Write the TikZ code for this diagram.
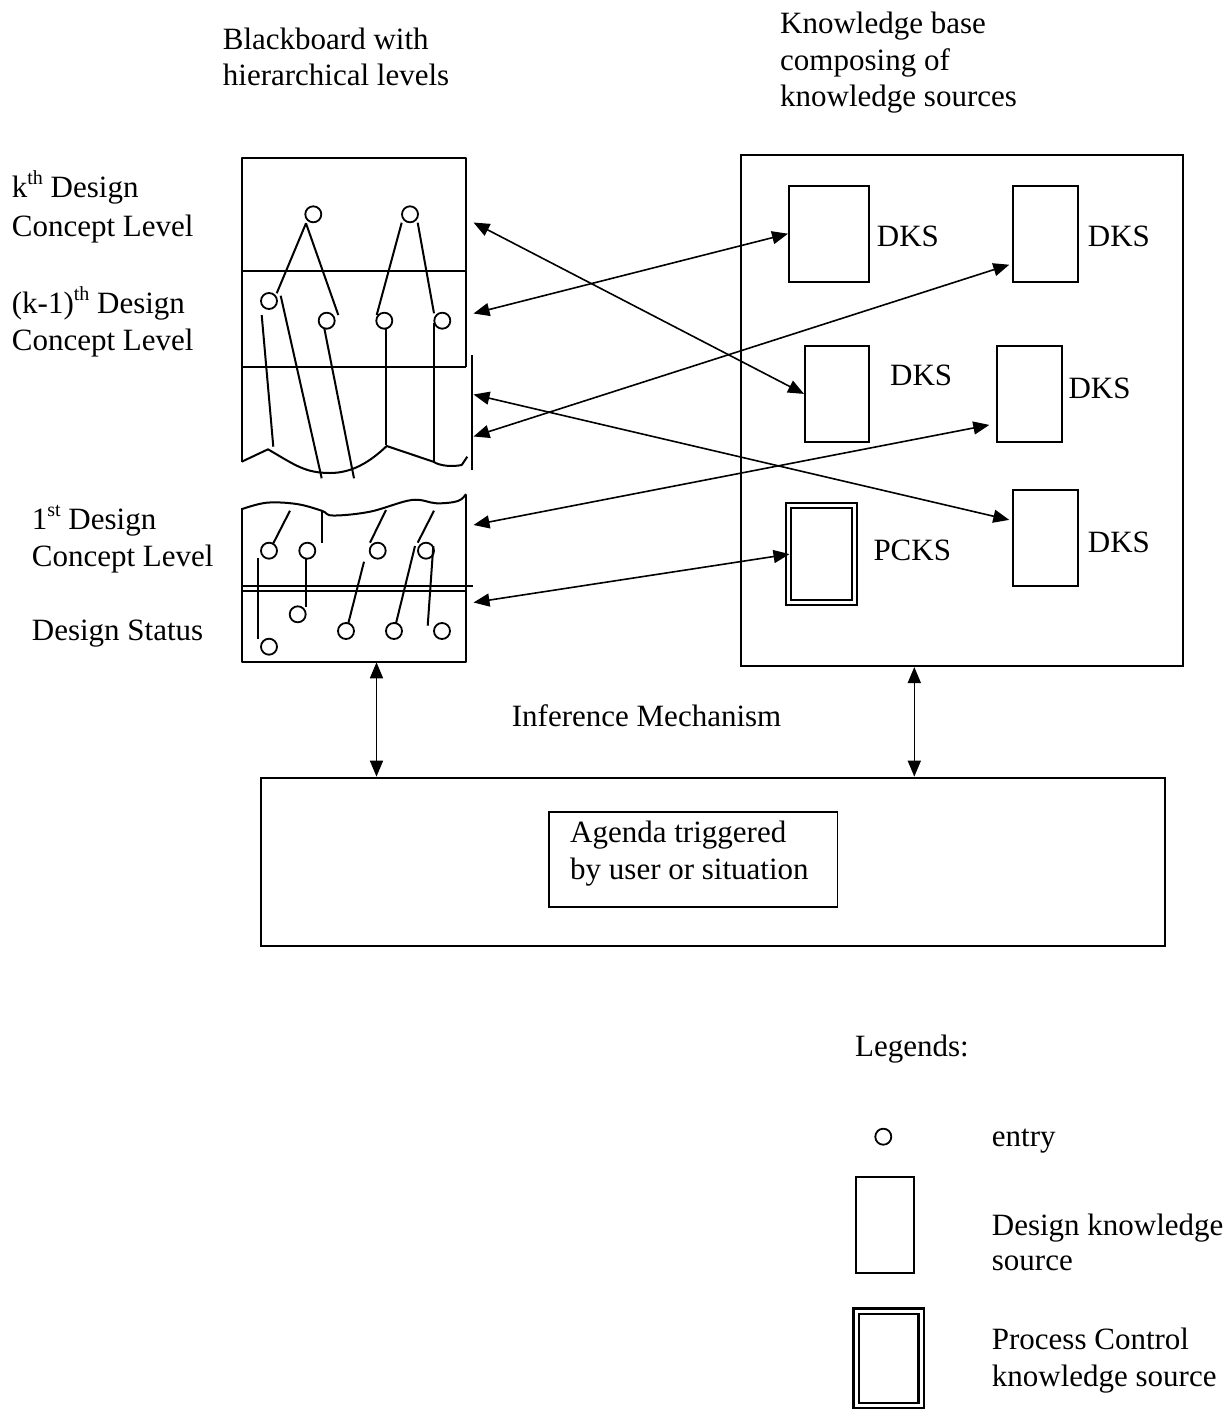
\documentclass[tikz,border=0pt]{standalone}
\usepackage{fontspec}
\setmainfont{Liberation Serif}
\usetikzlibrary{arrows.meta}
\newcommand\mysup[1]{\raisebox{13pt}{\fontsize{20}{20}\selectfont #1}}
\begin{document}
\begin{tikzpicture}[x=1pt,y=-1pt,
  lbl/.style={anchor=base west, inner sep=0pt, font=\fontsize{31}{36}\selectfont},
  bb/.style={line width=2pt, line join=round},
  entry/.style={circle, draw, line width=1.8pt, minimum size=16pt, inner sep=0pt},
  ksbox/.style={rectangle, draw, line width=2pt, inner sep=0pt},
  frame/.style={rectangle, draw, line width=2pt, inner sep=0pt},
  biarrow/.style={line width=1.6pt, {Triangle[length=16pt,width=13pt]}-{Triangle[length=16pt,width=13pt]}},
]
\useasboundingbox (0,0) rectangle (1232,1409);

% ---------- titles ----------
\node[lbl] (t1) at (222.7,49.3) {Blackboard with};
\node[lbl] (t2) at (222.7,85) {hierarchical levels};
\node[lbl] (t3) at (780,33.3) {Knowledge base};
\node[lbl] (t4) at (780,70) {composing of};
\node[lbl] (t5) at (780,106) {knowledge sources};

% ---------- left labels ----------
\node[lbl] (l1) at (11.7,197.7) {k\mysup{th} Design};
\node[lbl] (l2) at (11.7,236) {Concept Level};
\node[lbl] (l3) at (11.7,313) {(k-1)\mysup{th} Design};
\node[lbl] (l4) at (11.7,350.7) {Concept Level};
\node[lbl] (l5) at (31.7,529.3) {1\mysup{st} Design};
\node[lbl] (l6) at (31.7,566) {Concept Level};
\node[lbl] (l7) at (31.7,640) {Design Status};

% ---------- upper blackboard ----------
\draw[bb] (466,366.7) -- (466,158) -- (241.7,158) -- (241.7,461.7);
\draw[bb] (241.7,270.7) -- (466,270.7);
\draw[bb] (241.7,366.7) -- (466,366.7);
\draw[bb] (472.3,355) -- (472.3,470);
\draw[bb] (241.7,461.7) -- (268,449.3)
  .. controls (295,465) and (305,473) .. (330,473)
  .. controls (352,473) and (370,462) .. (386.7,446)
  -- (433.3,461.7)
  .. controls (440,466) and (452,467) .. (461.7,465) -- (467.3,456.7);

\node[entry] (e1) at (313.3,214.3) {};
\node[entry] (e2) at (410,214.3) {};
\node[entry] (e3) at (269,301) {};
\node[entry] (e4) at (326.7,320.7) {};
\node[entry] (e5) at (384.3,320.7) {};
\node[entry] (e6) at (442.3,320.7) {};

\draw[bb] (306,223.3) -- (276.7,293.3);
\draw[bb] (306,223.3) -- (338.3,315);
\draw[bb] (401.7,222.7) -- (376.7,315);
\draw[bb] (417.7,222.7) -- (434,313.3);
\draw[bb] (261.7,315) -- (273.3,446.7);
\draw[bb] (280.7,295.7) -- (321.7,478.3);
\draw[bb] (324.3,328.3) -- (354,478.3);
\draw[bb] (385.7,328.3) -- (385.7,445);
\draw[bb] (434,323.3) -- (434,461.7);

% ---------- lower blackboard ----------
\draw[bb] (242.3,507.7) -- (242.3,662.3) -- (466,662.3) -- (466,495);
\draw[bb] plot[smooth, tension=0.6] coordinates {(242.3,509) (266.7,502.7) (296.7,504) (321.7,510.7) (333,515.5) (370,511.7) (411.7,500) (436.7,503.3) (458,501) (466,494)};
\draw[bb] (242.3,586.2) -- (472.7,586.2);
\draw[bb] (242.3,590.7) -- (466,590.7);

\node[entry] (f1) at (269,550.7) {};
\node[entry] (f2) at (307.3,550.7) {};
\node[entry] (f3) at (377.7,550.7) {};
\node[entry] (f4) at (426,550.7) {};
\node[entry] (g1) at (297.7,614.3) {};
\node[entry] (g2) at (269,646.7) {};
\node[entry] (g3) at (346,631) {};
\node[entry] (g4) at (394,631) {};
\node[entry] (g5) at (442,631) {};

\draw[bb] (290,510.7) -- (273.3,543.3);
\draw[bb] (321.7,510) -- (321.7,542.7);
\draw[bb] (386,510) -- (370,542.7);
\draw[bb] (434,510.7) -- (417.7,542.7);
\draw[bb] (257.7,558.3) -- (257.7,639);
\draw[bb] (306,558.3) -- (306,606.7);
\draw[bb] (364,561.7) -- (348.3,623.3);
\draw[bb] (415,546) -- (396,623.3);
\draw[bb] (433.3,546) -- (427.7,625.7);

% blackboard connection points
\coordinate (bbK) at (473.5,222.5);
\coordinate (bbKm) at (473.5,313.5);
\coordinate (bbU1) at (473.5,394.5);
\coordinate (bbU2) at (473.5,436.5);
\coordinate (bbF) at (473.5,525);
\coordinate (bbS) at (473.5,602.5);
\coordinate (bbBot) at (376.5,662.3);

% ---------- knowledge base ----------
\node[frame, minimum width=442.3pt, minimum height=511pt] (kb) at (962.2,410.5) {};
\node[ksbox, minimum width=80.3pt, minimum height=96pt] (dksA) at (829.2,233.7) {};
\node[ksbox, minimum width=64.4pt, minimum height=96pt] (dksB) at (1045.5,233.7) {};
\node[ksbox, minimum width=64.3pt, minimum height=95.7pt] (dksC) at (837.2,393.9) {};
\node[ksbox, minimum width=64.4pt, minimum height=95.7pt] (dksD) at (1029.5,393.9) {};
\node[ksbox, minimum width=64.4pt, minimum height=95.7pt] (dksE) at (1045.5,537.9) {};
\node[ksbox, line width=2.4pt, minimum width=70.7pt, minimum height=102.3pt] (pcksOut) at (821.4,553.9) {};
\node[ksbox, line width=2.4pt, minimum width=61pt, minimum height=91.7pt] (pcksIn) at (821.2,554.1) {};

\node[lbl] (kA) at (876.7,246) {DKS};
\node[lbl] (kB) at (1087.7,246) {DKS};
\node[lbl] (kC) at (890,385) {DKS};
\node[lbl] (kD) at (1068.3,398.3) {DKS};
\node[lbl] (kE) at (1087.7,552.7) {DKS};
\node[lbl] (kP) at (873.3,560) {PCKS};

% ---------- arrows ----------
\draw[biarrow] (bbK) -- (dksC.west);
\draw[biarrow] (bbKm) -- (dksA.west);
\draw[biarrow] (bbU1) -- ([shift={(-3,-18)}]dksE.west);
\draw[biarrow] (bbU2) -- ([shift={(-3,31)}]dksB.west);
\draw[biarrow] (bbF) -- ([shift={(-7,31)}]dksD.west);
\draw[biarrow] (bbS) -- (pcksIn.west);

% ---------- inference ----------
\node[frame, minimum width=904pt, minimum height=168.3pt] (inf) at (713,861.8) {};
\node[frame, line width=1.8pt, minimum width=288.5pt, minimum height=95pt] (agenda) at (693.2,859.2) {};
\node[lbl] (im) at (511.7,726) {Inference Mechanism};
\node[lbl] (ag1) at (570,842.7) {Agenda triggered};
\node[lbl] (ag2) at (570,879.3) {by user or situation};

\draw[biarrow] (bbBot) -- (bbBot |- inf.north);
\draw[biarrow] (kb.south -| 914.3,0) -- (inf.north -| 914.3,0);

% ---------- legend ----------
\node[lbl] (lg) at (855,1056.7) {Legends:};
\node[entry] (lgE) at (883.3,1136.7) {};
\node[lbl] (lgEt) at (991.7,1146.7) {entry};
\node[ksbox, minimum width=58.3pt, minimum height=96pt] (lgD) at (885.2,1224.7) {};
\node[lbl] (lgDt1) at (991.7,1235) {Design knowledge};
\node[lbl] (lgDt2) at (991.7,1270) {source};
\node[ksbox, line width=2.4pt, minimum width=70.7pt, minimum height=99.7pt] (lgPo) at (888.7,1358.2) {};
\node[ksbox, line width=2.4pt, minimum width=59.3pt, minimum height=89pt] (lgPi) at (888.7,1358.5) {};
\node[lbl] (lgPt1) at (991.7,1349.3) {Process Control};
\node[lbl] (lgPt2) at (991.7,1386.7) {knowledge source};
\end{tikzpicture}
\end{document}
